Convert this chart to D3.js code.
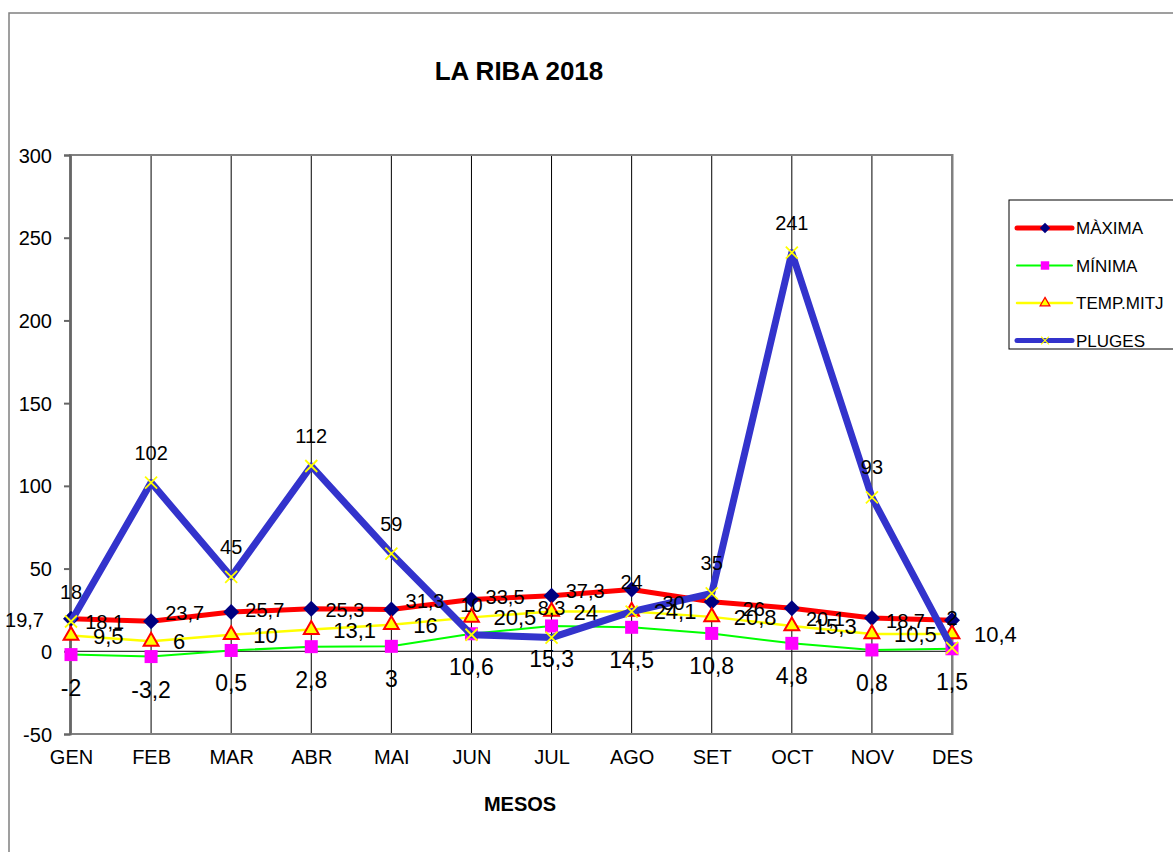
<!DOCTYPE html>
<meta charset="utf-8">
<head>
    <title>LA RIBA 2018</title>
    <script src="https://d3js.org/d3.v7.min.js"></script>
    <style>
        body {
            margin: 0;
            font-family: 'Liberation Sans', Arial, sans-serif;
            background: #fff;
        }

        svg {
            display: block;
        }

        text {
            fill: #000;
        }

        .frame {
            fill: none;
            stroke: #808080;
            stroke-width: 1.5;
        }

        .plot-border {
            fill: none;
            stroke: #808080;
            stroke-width: 2;
        }

        .vgrid line {
            stroke: #000;
            stroke-width: 1;
        }

        .axis text {
            font-size: 20px;
        }

        .axis path,
        .axis line {
            stroke: #666;
            stroke-width: 2;
        }

        .zero {
            stroke: #000;
            stroke-width: 1;
        }

        text.title {
            font-size: 26px;
            font-weight: 700;
        }

        text.label {
            font-size: 20px;
            font-weight: 700;
        }

        text.legend {
            font-size: 17px;
        }
    </style>
</head>

<body>
<svg width="1173" height="852"></svg>

<script>

    const months = ['GEN', 'FEB', 'MAR', 'ABR', 'MAI', 'JUN', 'JUL', 'AGO', 'SET', 'OCT', 'NOV', 'DES'];
    const maxima = [19.7, 18.1, 23.7, 25.7, 25.3, 31.3, 33.5, 37.3, 30, 26, 20.1, 18.7];
    const minima = [-2, -3.2, 0.5, 2.8, 3, 10.6, 15.3, 14.5, 10.8, 4.8, 0.8, 1.5];
    const mitjana = [9.5, 6, 10, 13.1, 16, 20.5, 24, 24.1, 20.8, 15.3, 10.5, 10.4];
    const pluges = [18, 102, 45, 112, 59, 10, 8.3, 24, 35, 241, 93, 2];
    const yTicks = [-50, 0, 50, 100, 150, 200, 250, 300];

    const series = [
        {name: 'MÀXIMA', values: maxima, color: '#FF0000', width: 5, marker: 'diamond', pos: 'left', font: 20},
        {name: 'MÍNIMA', values: minima, color: '#00FF00', width: 2, marker: 'square', pos: 'below', font: 23},
        {name: 'TEMP.MITJ', values: mitjana, color: '#FFFF00', width: 2.5, marker: 'triangle', pos: 'right', font: 22},
        {name: 'PLUGES', values: pluges, color: '#3333CC', width: 7, marker: 'x', pos: 'above', font: 20}
    ];

    const svg = d3.select('svg');

    const plot = {left: 70, top: 155, right: 952.5, bottom: 734};

    const fmt = (v) => String(v).replace('.', ',');

    // outer chart frame (runs past the window on the right and bottom)
    svg.append('rect')
        .attr('class', 'frame')
        .attr('x', 9)
        .attr('y', 13)
        .attr('width', 1200)
        .attr('height', 900);

    const xScale = d3.scalePoint()
        .domain(months)
        .range([plot.left + 1, plot.right - 0.5]);

    const yScale = d3.scaleLinear()
        .domain([-50, 300])
        .range([plot.bottom, plot.top]);

    // vertical grid lines at each month
    svg.append('g')
        .attr('class', 'vgrid')
        .selectAll('line')
        .data(months)
        .join('line')
        .attr('x1', (m) => xScale(m))
        .attr('x2', (m) => xScale(m))
        .attr('y1', plot.top)
        .attr('y2', plot.bottom);

    svg.append('rect')
        .attr('class', 'plot-border')
        .attr('x', plot.left)
        .attr('y', plot.top)
        .attr('width', plot.right - plot.left)
        .attr('height', plot.bottom - plot.top);

    svg.append('line')
        .attr('class', 'zero')
        .attr('x1', plot.left)
        .attr('x2', plot.right)
        .attr('y1', yScale(0))
        .attr('y2', yScale(0));

    svg.append('g')
        .attr('class', 'axis')
        .attr('transform', `translate(${plot.left}, 0)`)
        .call(d3.axisLeft(yScale).tickValues(yTicks).tickSize(6).tickPadding(12).tickFormat(fmt))
        .call((g) => g.selectAll('text').attr('dy', '0.35em'));

    svg.append('g')
        .attr('class', 'axis')
        .attr('transform', `translate(0, ${plot.bottom})`)
        .call(d3.axisBottom(xScale).tickSize(0).tickPadding(16))
        .call((g) => g.select('.domain').remove());

    const markerPath = {
        diamond: d3.symbol(d3.symbolSquare, 128)(),
        square: d3.symbol(d3.symbolSquare, 169)(),
        triangle: d3.symbol(d3.symbolTriangle, 95)(),
        x: 'M-6,-6L6,6M-6,6L6,-6'
    };

    function drawMarker(sel, s) {
        sel.attr('d', markerPath[s.marker]);
        if (s.marker === 'diamond') {
            sel.attr('fill', '#000080').attr('stroke', 'none');
        } else if (s.marker === 'square') {
            sel.attr('fill', '#FF00FF').attr('stroke', 'none');
        } else if (s.marker === 'triangle') {
            sel.attr('fill', '#FFFF00').attr('stroke', '#FF0000').attr('stroke-width', 2);
        } else {
            sel.attr('fill', 'none').attr('stroke', '#FFFF00').attr('stroke-width', 1.8);
        }
    }

    const line = d3.line()
        .x((d, i) => xScale(months[i]))
        .y((d) => yScale(d));

    series.forEach((s) => {
        const g = svg.append('g');
        g.append('path')
            .datum(s.values)
            .attr('fill', 'none')
            .attr('stroke', s.color)
            .attr('stroke-width', s.width)
            .attr('stroke-linejoin', 'round')
            .attr('d', line);

        g.selectAll('path.marker')
            .data(s.values)
            .join('path')
            .attr('class', 'marker')
            .attr('transform', (d, i) => {
                const rot = s.marker === 'diamond' ? ' rotate(45)' : '';
                return `translate(${xScale(months[i])}, ${yScale(d)})${rot}`;
            })
            .call(drawMarker, s);
    });

    // data labels on top
    series.forEach((s) => {
        svg.append('g')
            .selectAll('text')
            .data(s.values)
            .join('text')
            .attr('class', 'value')
            .style('font-size', s.font + 'px')
            .attr('x', (d, i) => {
                const x = xScale(months[i]);
                if (s.pos === 'left') return x - 27;
                if (s.pos === 'right') return x + 22;
                return x;
            })
            .attr('y', (d) => {
                const y = yScale(d);
                if (s.pos === 'above') return y - 23;
                if (s.pos === 'below') return y + 41;
                return y + 8;
            })
            .attr('text-anchor', s.pos === 'left' ? 'end' : (s.pos === 'right' ? 'start' : 'middle'))
            .text(fmt);
    });

    svg.append('text')
        .attr('class', 'title')
        .attr('x', 519)
        .attr('y', 80)
        .attr('text-anchor', 'middle')
        .text('LA RIBA 2018');

    svg.append('text')
        .attr('class', 'label')
        .attr('x', 520)
        .attr('y', 811)
        .attr('text-anchor', 'middle')
        .text('MESOS');

    // legend
    const legend = svg.append('g').attr('transform', 'translate(1009, 200)');

    legend.append('rect')
        .attr('width', 200)
        .attr('height', 149)
        .attr('fill', '#fff')
        .attr('stroke', '#000')
        .attr('stroke-width', 1);

    const items = legend.selectAll('g.item')
        .data(series)
        .join('g')
        .attr('class', 'item')
        .attr('transform', (d, i) => `translate(0, ${28 + i * 37.5})`);

    items.append('line')
        .attr('x1', 8)
        .attr('x2', 63)
        .attr('stroke', (s) => s.color)
        .attr('stroke-width', (s) => Math.min(s.width, 5))
        .attr('stroke-linecap', 'round');

    items.append('path')
        .attr('transform', (s) => `translate(36, 0) scale(0.65)${s.marker === 'diamond' ? ' rotate(45)' : ''}`)
        .each(function (s) {
            d3.select(this).call(drawMarker, s);
        });

    items.append('text')
        .attr('class', 'legend')
        .attr('x', 67)
        .attr('y', 6)
        .text((s) => s.name);

</script>
</body>
